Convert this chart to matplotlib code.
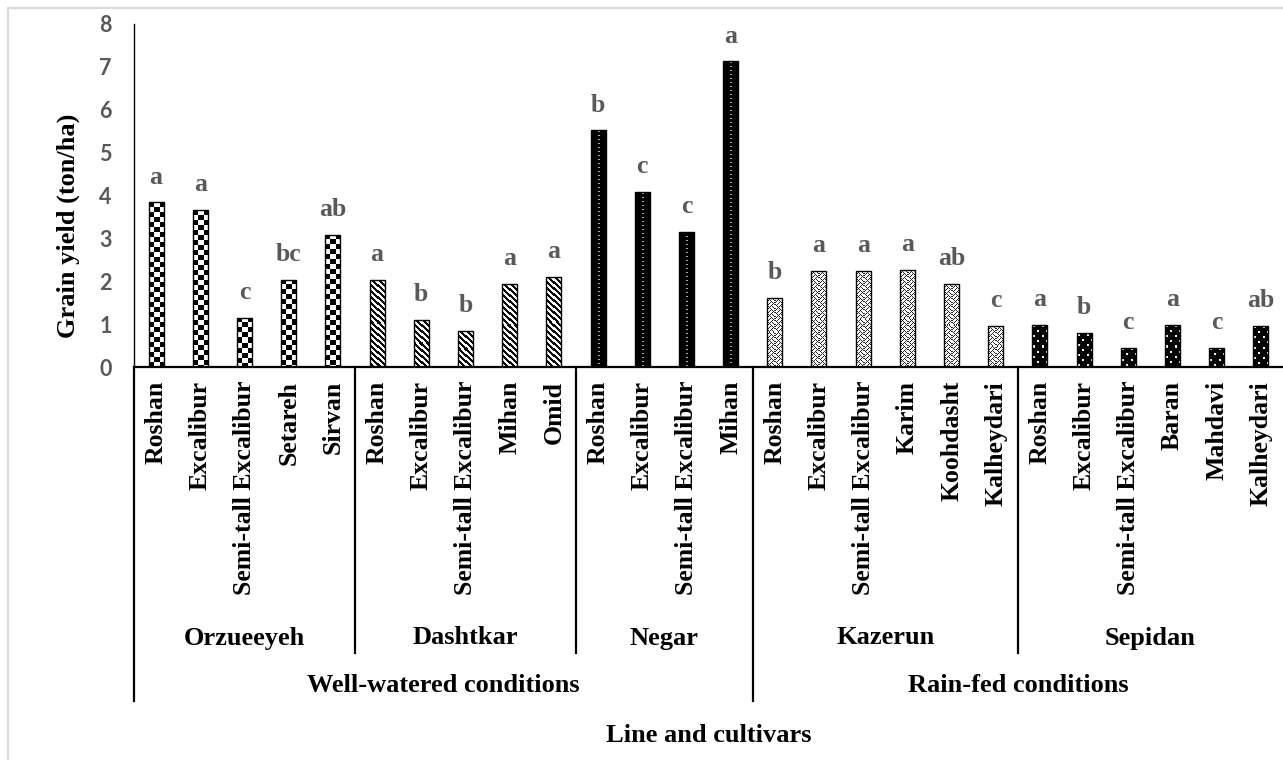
import numpy as np
import matplotlib
matplotlib.use("Agg")
import matplotlib.pyplot as plt
from matplotlib import transforms
from matplotlib.lines import Line2D

# ---------------- data ----------------
groups = ["Orzueeyeh", "Dashtkar", "Negar", "Kazerun", "Sepidan"]
orz_cultivars = ["Roshan", "Excalibur", "Semi-tall Excalibur", "Setareh", "Sirvan"]
das_cultivars = ["Roshan", "Excalibur", "Semi-tall Excalibur", "Mihan", "Omid"]
neg_cultivars = ["Roshan", "Excalibur", "Semi-tall Excalibur", "Mihan"]
kaz_cultivars = ["Roshan", "Excalibur", "Semi-tall Excalibur", "Karim", "Koohdasht", "Kalheydari"]
sep_cultivars = ["Roshan", "Excalibur", "Semi-tall Excalibur", "Baran", "Mahdavi", "Kalheydari"]

orz_yield = [3.84, 3.66, 1.15, 2.04, 3.09]
das_yield = [2.03, 1.10, 0.84, 1.94, 2.10]
neg_yield = [5.52, 4.08, 3.15, 7.13]
kaz_yield = [1.61, 2.24, 2.24, 2.27, 1.94, 0.96]
sep_yield = [0.99, 0.79, 0.45, 0.99, 0.45, 0.96]

orz_letters = ["a", "a", "c", "bc", "ab"]
das_letters = ["a", "b", "b", "a", "a"]
neg_letters = ["b", "c", "c", "a"]
kaz_letters = ["b", "a", "a", "a", "ab", "c"]
sep_letters = ["a", "b", "c", "a", "c", "ab"]

conditions = ["Well-watered conditions", "Rain-fed conditions"]
condition_groups = [["Orzueeyeh", "Dashtkar", "Negar"], ["Kazerun", "Sepidan"]]

y_ticks = [0, 1, 2, 3, 4, 5, 6, 7, 8]

cultivars = [orz_cultivars, das_cultivars, neg_cultivars, kaz_cultivars, sep_cultivars]
yields = [orz_yield, das_yield, neg_yield, kaz_yield, sep_yield]
letters = [orz_letters, das_letters, neg_letters, kaz_letters, sep_letters]
patterns = ["checker", "stripe", "dotline", "weave", "confetti"]

# ---------------- figure ----------------
W, H = 1283, 760
fig = plt.figure(figsize=(W / 100, H / 100), dpi=100)
fig.patch.set_facecolor("white")

AX_L, AX_R, AX_T, AX_B = 134, 1283, 24, 367
ax = fig.add_axes([AX_L / W, 1 - AX_B / H, (AX_R - AX_L) / W, (AX_B - AX_T) / H])

serif = ["Liberation Serif", "DejaVu Serif"]
n_total = sum(len(c) for c in cultivars)
ax.set_xlim(0, n_total)
ax.set_ylim(0, 8)

for s in ["top", "right"]:
    ax.spines[s].set_visible(False)
ax.spines["left"].set_linewidth(1.0)
ax.spines["bottom"].set_linewidth(1.6)
ax.set_xticks([])
ax.set_yticks(y_ticks)
ax.tick_params(axis="y", length=0, pad=16)
for lab in ax.get_yticklabels():
    lab.set_fontfamily(["Lato", "DejaVu Sans"])
    lab.set_fontweight("bold")
    lab.set_fontsize(15.5)
    lab.set_color("#595959")


def make_pattern(kind, w, h):
    w = max(int(round(w)), 1)
    h = max(int(round(h)), 1)
    yy, xx = np.mgrid[0:h, 0:w]
    if kind == "checker":
        c = 5
        val = np.where(((yy // c + xx // c) % 2) == 0, 0.0, 1.0)
    elif kind == "stripe":
        val = np.where(((xx - yy) % 6) < 3, 0.05, 1.0)
    elif kind == "dotline":
        val = np.zeros((h, w))
        cx = w // 2
        val[(yy % 4 == 1) & (xx == cx)] = 0.7
    elif kind == "weave":
        tile = np.array([
            [0, 1, 1, 1, 0, 1, 1, 1],
            [1, 0, 1, 0, 1, 0, 1, 1],
            [1, 1, 0, 1, 1, 1, 0, 1],
            [1, 0, 1, 0, 1, 1, 1, 0],
            [0, 1, 1, 1, 0, 1, 1, 1],
            [1, 1, 1, 0, 1, 0, 1, 0],
            [1, 1, 0, 1, 1, 1, 0, 1],
            [1, 0, 1, 1, 1, 0, 1, 0],
        ], dtype=float)
        val = np.where(tile[yy % 8, xx % 8] < 0.5, 0.15, 1.0)
    else:  # confetti
        tile = np.zeros((10, 8))
        tile[1:3, 1:3] = 0.95
        tile[6:8, 5:7] = 0.95
        val = tile[yy % 10, xx % 8]
    return np.dstack([val, val, val])


bar_w = 0.34
pos = 0
group_bounds = []
for g, (cul, yv, let, pat) in enumerate(zip(cultivars, yields, letters, patterns)):
    start = pos
    xs = np.arange(len(cul)) + pos + 0.5
    bars = ax.bar(xs, yv, width=bar_w, facecolor="none", edgecolor="black",
                  linewidth=1.0, zorder=3)
    for rect, val, lt in zip(bars, yv, let):
        x0, x1 = rect.get_x(), rect.get_x() + rect.get_width()
        (px0, py0), (px1, py1) = ax.transData.transform([(x0, 0), (x1, val)])
        img = make_pattern(pat, abs(px1 - px0), abs(py1 - py0))
        im = ax.imshow(img, extent=(x0, x1, 0, val), aspect="auto",
                       interpolation="nearest", zorder=2)
        im.set_clip_path(rect)
        ax.annotate(lt, xy=(rect.get_x() + rect.get_width() / 2, val),
                    xytext=(0, 13.5), textcoords="offset points",
                    ha="center", va="baseline", fontsize=18.5,
                    fontfamily=serif, fontweight="bold", color="#595959")
    pos += len(cul)
    group_bounds.append((start, pos))

ax.set_xlim(0, n_total)
ax.set_ylim(0, 8)

# ---------------- hierarchical category axis ----------------
tr = transforms.blended_transform_factory(ax.transData, fig.transFigure)


def fy(ypix):
    return 1 - ypix / H


idx = 0
for cul in cultivars:
    for name in cul:
        ax.text(idx + 0.5, fy(381), name, transform=tr, rotation=90,
                ha="center", va="top", fontsize=18.5, fontfamily=serif,
                fontweight="bold", color="black", clip_on=False)
        idx += 1

for name, (a, b) in zip(groups, group_bounds):
    ax.text((a + b) / 2, fy(638), name, transform=tr, ha="center", va="center",
            fontsize=19, fontfamily=serif, fontweight="bold", color="black")

bounds_of = dict(zip(groups, group_bounds))
cond_bounds = []
for cname, glist in zip(conditions, condition_groups):
    a = bounds_of[glist[0]][0]
    b = bounds_of[glist[-1]][1]
    cond_bounds.append((a, b))
    ax.text((a + b) / 2, fy(686), cname, transform=tr, ha="center", va="center",
            fontsize=19, fontfamily=serif, fontweight="bold", color="black")

# separator lines (the right-hand outer edge lies beyond the visible area)
inner = [b for (_, b) in group_bounds[:-1]]
outer = [0] + [b for (_, b) in cond_bounds[:-1]]
for x in inner:
    if x in outer:
        continue
    fig.add_artist(Line2D([x, x], [fy(AX_B), fy(653)], transform=tr,
                          color="black", lw=1.6))
for x in outer:
    fig.add_artist(Line2D([x, x], [fy(AX_B), fy(701)], transform=tr,
                          color="black", lw=1.6))

fig.text((AX_L + AX_R) / 2 / W, fy(735), "Line and cultivars", ha="center",
         va="center", fontsize=19, fontfamily=serif, fontweight="bold")
fig.text(68 / W, fy(226), "Grain yield (ton/ha)", rotation=90, ha="center",
         va="center", fontsize=19, fontfamily=serif, fontweight="bold")

# chart-area border
fig.add_artist(Line2D([7.5 / W, 7.5 / W], [fy(8), 0], transform=fig.transFigure,
                      color="#d9d9d9", lw=1.5))
fig.add_artist(Line2D([7.5 / W, 1], [fy(8), fy(8)], transform=fig.transFigure,
                      color="#d9d9d9", lw=1.5))

fig.savefig("out.png", dpi=100)
